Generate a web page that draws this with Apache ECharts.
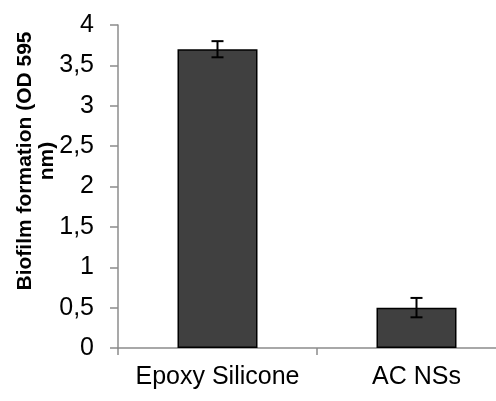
<!DOCTYPE html>
<html><head><meta charset="utf-8">
<script src="https://cdn.jsdelivr.net/npm/echarts@6/dist/echarts.min.js"></script>
<style>html,body{margin:0;padding:0;background:#fff;overflow:hidden;width:496px;height:401px}#c{width:516px;height:401px}</style>
</head><body><div id="c"></div>
<script>
var categories = ['Epoxy Silicone', 'AC NSs'];
var values = [3.7, 0.5];
var errors = [0.1, 0.12];
var yTicks = [0, 0.5, 1, 1.5, 2, 2.5, 3, 3.5, 4];
var yTitle = 'Biofilm formation (OD 595\nnm)';

var chart = echarts.init(document.getElementById('c'));
var errData = values.map(function (v, i) { return [i, v - errors[i], v + errors[i]]; });
chart.setOption({
  animation: false,
  grid: { left: 118, right: 0, top: 25, bottom: 53, containLabel: false },
  xAxis: {
    type: 'category', data: categories,
    axisLine: { lineStyle: { color: '#8c8c8c', width: 1.5 } },
    axisTick: { show: true, length: 7, interval: 0, lineStyle: { color: '#8c8c8c', width: 1.5 } },
    axisLabel: { color: '#000', fontSize: 25, fontFamily: 'Liberation Sans', margin: 17,
      interval: 0, hideOverlap: false }
  },
  yAxis: {
    type: 'value', min: yTicks[0], max: yTicks[yTicks.length - 1], interval: 0.5,
    axisLine: { show: true, lineStyle: { color: '#8c8c8c', width: 1.5 } },
    axisTick: { show: true, length: 8, lineStyle: { color: '#8c8c8c', width: 1.5 } },
    splitLine: { show: false },
    axisLabel: { color: '#000', fontSize: 25, fontFamily: 'Liberation Sans', margin: 24,
      formatter: function (v) { return String(v).replace('.', ','); } }
  },
  graphic: [{
    type: 'text', x: 36, y: 161, rotation: Math.PI / 2,
    style: { text: yTitle, fill: '#000', font: 'bold 21px "Liberation Sans"',
      textAlign: 'center', textVerticalAlign: 'middle', lineHeight: 22 }
  }],
  series: [{
    type: 'bar', data: values, barWidth: 80,
    itemStyle: { color: '#404040', borderColor: '#000', borderWidth: 1.5 }
  }, {
    type: 'custom', data: errData, z: 10,
    renderItem: function (params, api) {
      var x = api.coord([api.value(0), api.value(1)])[0];
      var lo = api.coord([api.value(0), api.value(1)])[1];
      var hi = api.coord([api.value(0), api.value(2)])[1];
      var w = 6;
      var st = { stroke: '#000', lineWidth: 2 };
      return { type: 'group', children: [
        { type: 'line', shape: { x1: x, y1: lo, x2: x, y2: hi }, style: st },
        { type: 'line', shape: { x1: x - w, y1: lo, x2: x + w, y2: lo }, style: st },
        { type: 'line', shape: { x1: x - w, y1: hi, x2: x + w, y2: hi }, style: st }
      ] };
    }
  }]
});
</script></body></html>
